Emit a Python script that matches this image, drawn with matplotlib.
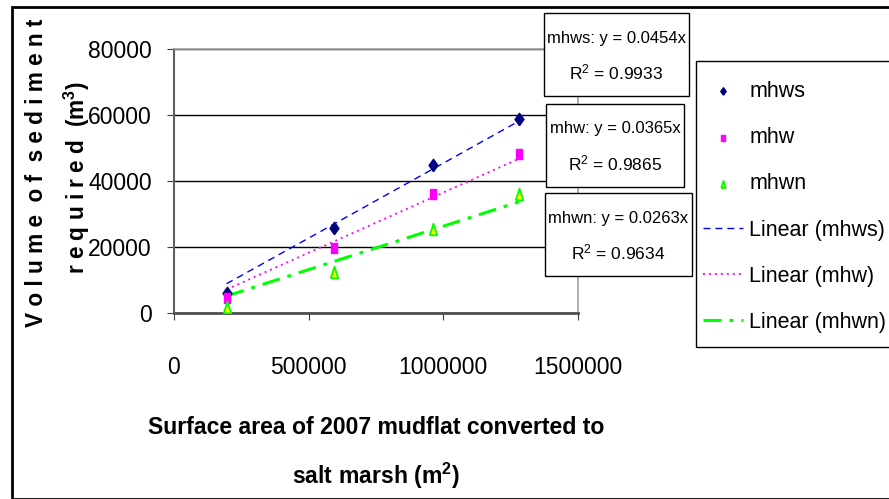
import matplotlib
matplotlib.use('Agg')
import matplotlib.pyplot as plt
from matplotlib.patches import Rectangle
import numpy as np

plt.rcParams['font.family'] = ['Liberation Sans', 'DejaVu Sans']

# data
area = [195000, 593000, 960000, 1281000]
mhws = [6150, 25700, 45000, 58900]
mhw = [4600, 19700, 36100, 48200]
mhwn = [1700, 12300, 25400, 36100]

slopes = {'mhws': 0.0454, 'mhw': 0.0365, 'mhwn': 0.0263}
r2 = {'mhws': 0.9933, 'mhw': 0.9865, 'mhwn': 0.9634}

# tall narrow markers like the original
diamond = [(0, -0.5), (0.36, 0), (0, 0.5), (-0.36, 0), (0, -0.5)]
tall_square = [(-0.3, -0.5), (0.3, -0.5), (0.3, 0.5), (-0.3, 0.5), (-0.3, -0.5)]
tall_tri = [(-0.32, -0.5), (0.32, -0.5), (0, 0.5), (-0.32, -0.5)]

fig = plt.figure(figsize=(8.89, 4.99), dpi=100)
W, H = 889, 499
ax = fig.add_axes([174 / W, 1 - 313 / H, (578 - 174) / W, (313 - 49) / H])

ax.set_xlim(0, 1500000)
ax.set_ylim(0, 80000)
ax.set_xticks([0, 500000, 1000000, 1500000])
ax.set_yticks([0, 20000, 40000, 60000, 80000])
ax.set_xticklabels(['0', '500000', '1000000', '1500000'])
ax.set_yticklabels(['0', '20000', '40000', '60000', '80000'])
ax.tick_params(labelsize=16.5, direction='out', length=5, color='#404040')
ax.tick_params(axis='x', pad=26)
ax.tick_params(axis='y', pad=11)
ax.yaxis.grid(True, color='black', linewidth=1)
ax.set_axisbelow(True)
for s in ['top', 'right']:
    ax.spines[s].set_color('#a0a0a0')
    ax.spines[s].set_linewidth(1.2)
ax.spines['left'].set_color('#606060')
ax.spines['left'].set_linewidth(1.5)
ax.spines['bottom'].set_color('#505050')
ax.spines['bottom'].set_linewidth(2)

xs = np.array([min(area), max(area)])
ax.plot(xs, slopes['mhws'] * xs, color='#0000ff', linestyle=(0, (5, 3.6)), linewidth=1, label='Linear (mhws)')
ax.plot(xs, slopes['mhw'] * xs, color='#ff00ff', linestyle=(0, (1.1, 2.2)), linewidth=1.3, label='Linear (mhw)')
ax.plot(xs, slopes['mhwn'] * xs, color='#00ff00', linestyle=(0, (5.9, 2.6, 1.3, 2.6)), linewidth=2.2, label='Linear (mhwn)')

ax.scatter(area, mhws, marker=diamond, s=80, color='#000080', zorder=5, label='mhws')
ax.scatter(area, mhw, marker=tall_square, s=60, color='#ff00ff', zorder=5, label='mhw')
ax.scatter(area, mhwn, marker=tall_tri, s=70, facecolor='#ffff00', edgecolor='#00ff00', linewidth=1.3, zorder=5, label='mhwn')

handles, labels = ax.get_legend_handles_labels()
order = [3, 4, 5, 0, 1, 2]
leg = fig.legend([handles[i] for i in order], [labels[i] for i in order],
                 loc='upper left', bbox_to_anchor=(703 / W, 1 - 81 / H),
                 fontsize=15.5, frameon=False, borderpad=0, borderaxespad=0,
                 handlelength=1.85, handletextpad=0.3, labelspacing=1.17,
                 markerscale=0.6)
fig.patches.append(Rectangle((696 / W, 1 - 347 / H), 0.3, (347 - 61) / H, transform=fig.transFigure,
                             fill=False, edgecolor='black', linewidth=1))

# trendline equation boxes (x0, x1, y0, y1 in pixels)
boxes = [('mhws', 544, 689, 13, 96), ('mhw', 546, 684, 104, 187), ('mhwn', 545, 692, 193, 276)]
for name, x0, x1, y0, y1 in boxes:
    fig.patches.append(Rectangle((x0 / W, 1 - y1 / H), (x1 - x0) / W, (y1 - y0) / H,
                                 transform=fig.transFigure, facecolor='white',
                                 edgecolor='black', linewidth=1, zorder=3))
    fig.text((x0 + x1) / 2 / W, 1 - (y0 + 25) / H, f'{name}: y = {slopes[name]}x',
             ha='center', va='center', fontsize=12, zorder=4)
    fig.text((x0 + x1) / 2 / W, 1 - (y0 + 59) / H, f'R$\\mathregular{{^2}}$ = {r2[name]}',
             ha='center', va='center', fontsize=12.5, zorder=4)

fig.text(376 / W, 1 - 427 / H, 'Surface area of 2007 mudflat converted to',
         ha='center', va='center', fontsize=16.6, fontweight='bold')
fig.text(376 / W, 1 - 476 / H, 'salt marsh (m$\\mathregular{^2}$)',
         ha='center', va='center', fontsize=16.6, fontweight='bold')
fig.text(37 / W, 1 - 173 / H, 'V o l u m e  o f  s e d i m e n t', rotation=90,
         ha='center', va='center', fontsize=16.3, fontweight='bold')
fig.text(77 / W, 1 - 178 / H, 'r e q u i r e d  (m$\\mathregular{^3}$)', rotation=90,
         ha='center', va='center', fontsize=16.3, fontweight='bold')

fig.patches.append(Rectangle((12 / W, 0), 1, 1 - 7 / H, transform=fig.transFigure,
                             fill=False, edgecolor='black', linewidth=2))

fig.savefig('out.png', dpi=100)
